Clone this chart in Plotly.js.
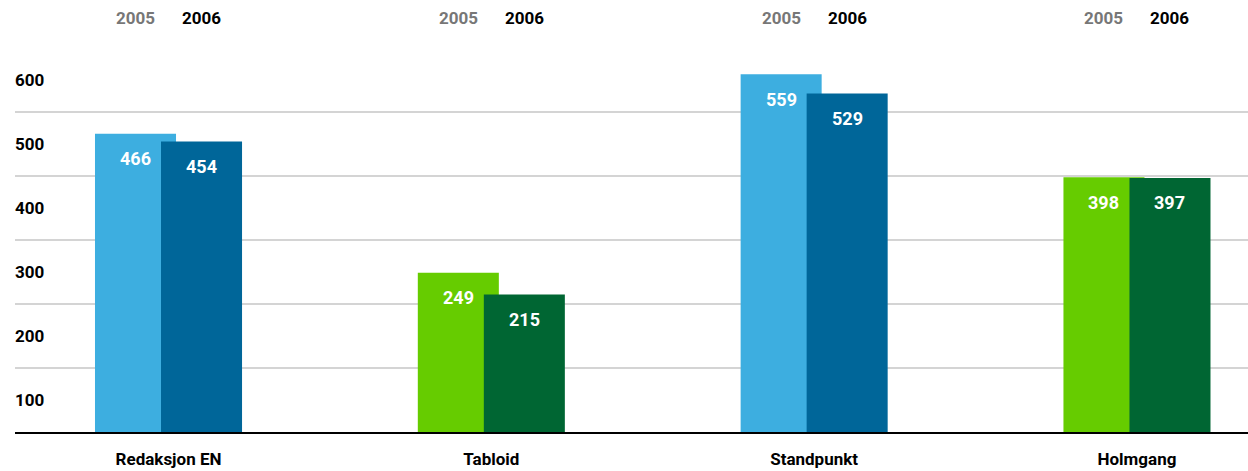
<!DOCTYPE html>
<html>
<head>
<meta charset="utf-8">
<script src="https://cdn.plot.ly/plotly-3.0.1.min.js"></script>
<style>html,body{margin:0;padding:0;background:#fff}#chart{width:1248px;height:471px}</style>
</head>
<body>
<div id="chart"></div>
<script>
const categories = ["Redaksjon EN", "Tabloid", "Standpunkt", "Holmgang"];
const years = ["2005", "2006"];
const values2005 = [466, 249, 559, 398];
const values2006 = [454, 215, 529, 397];
const yTickLabels = ["100", "200", "300", "400", "500", "600"];
const yTickPositions = [50, 150, 250, 350, 450, 550];

const colors2005 = ["#3daee0", "#66cc00", "#3daee0", "#66cc00"];
const colors2006 = ["#006699", "#006633", "#006699", "#006633"];
const xs = categories.map((c, i) => i);
const FONT = "Roboto, 'Liberation Sans', Arial, sans-serif";

const off1 = -0.2277, off2 = -0.0232, w = 0.251;

const trace2005 = {
  type: "bar", x: xs, y: values2005, offset: off1, width: w,
  marker: {color: colors2005, line: {width: 0}}, hoverinfo: "skip", showlegend: false
};
const trace2006 = {
  type: "bar", x: xs, y: values2006, offset: off2, width: w,
  marker: {color: colors2006, line: {width: 0}}, hoverinfo: "skip", showlegend: false
};
// invisible trace to activate yaxis2 for tick labels
const dummy = {type: "scatter", x: [0], y: [0], yaxis: "y2", mode: "markers",
  marker: {opacity: 0}, hoverinfo: "skip", showlegend: false};

const annotations = [];
xs.forEach((xi, i) => {
  annotations.push({x: xi + off1 + w/2, y: values2005[i], xref: "x", yref: "y",
    text: String(values2005[i]), showarrow: false, yshift: -25,
    font: {family: FONT, size: 18, color: "#ffffff", weight: "bold"}});
  annotations.push({x: xi + off2 + w/2, y: values2006[i], xref: "x", yref: "y",
    text: String(values2006[i]), showarrow: false, yshift: -25,
    font: {family: FONT, size: 18, color: "#ffffff", weight: "bold"}});
  annotations.push({x: xi + off1 + w/2, y: 1, xref: "x", yref: "paper", yanchor: "middle",
    text: years[0], showarrow: false, yshift: 30,
    font: {family: FONT, size: 17, color: "#777777", weight: "bold"}});
  annotations.push({x: xi + off2 + w/2, y: 1, xref: "x", yref: "paper", yanchor: "middle",
    text: years[1], showarrow: false, yshift: 30,
    font: {family: FONT, size: 17, color: "#000000", weight: "bold"}});
});

const layout = {
  width: 1248, height: 471,
  margin: {l: 15, r: 0, t: 48, b: 39, pad: 0},
  paper_bgcolor: "#ffffff", plot_bgcolor: "#ffffff",
  font: {family: FONT, size: 17, color: "#000"},
  barmode: "overlay",
  xaxis: {
    range: [-0.4755, 3.344], tickvals: xs, ticktext: categories,
    showgrid: false, zeroline: false, showline: true, linecolor: "#000000", linewidth: 2,
    ticks: "outside", ticklen: 11, tickcolor: "rgba(0,0,0,0)",
    tickfont: {family: FONT, size: 17, color: "#000", weight: "bold"}, fixedrange: true
  },
  yaxis: {
    range: [0, 600], dtick: 100, tick0: 0, showticklabels: false,
    showgrid: true, gridcolor: "#d4d4d4", gridwidth: 1.5, zeroline: false, showline: false,
    fixedrange: true
  },
  yaxis2: {
    overlaying: "y", side: "left", range: [0, 600],
    tickvals: yTickPositions, ticktext: yTickLabels,
    ticklabelposition: "inside", ticklabelstandoff: -3, ticks: "", showgrid: false, zeroline: false, showline: false,
    tickfont: {family: FONT, size: 17, color: "#000", weight: "bold"}, fixedrange: true
  },
  annotations: annotations,
  showlegend: false
};

Plotly.newPlot("chart", [trace2005, trace2006, dummy], layout, {displayModeBar: false, staticPlot: true});
</script>
</body>
</html>
